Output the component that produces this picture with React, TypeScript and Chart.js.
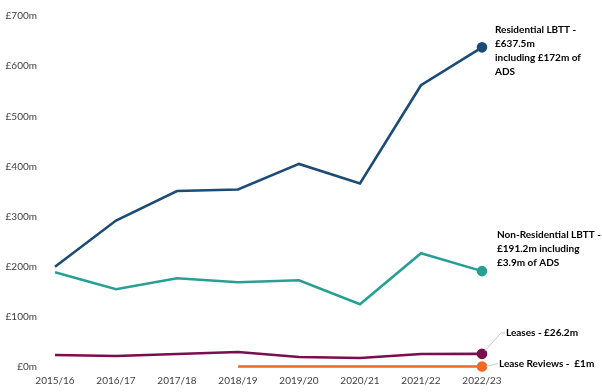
import React, { useEffect, useRef } from "react";
import { Chart, registerables } from "chart.js";

Chart.register(...registerables);

const categories = ["2015/16", "2016/17", "2017/18", "2018/19", "2019/20", "2020/21", "2021/22", "2022/23"];
const residential = [200, 292, 351, 354, 405, 366, 562, 637.5];
const nonResidential = [189, 155, 177, 169, 173, 125, 227, 191.2];
const leases = [24, 22, 26, 30, 20, 18, 26, 26.2];
const leaseReviews = [null, null, null, 1, 1, 1, 1, 1];
const yTicks = [0, 100, 200, 300, 400, 500, 600, 700];

const seriesLabels = [
  ["Residential LBTT -", "£637.5m", "including £172m of", "ADS"],
  ["Non-Residential LBTT -", "£191.2m including", "£3.9m of ADS"],
  ["Leases - £26.2m"],
  ["Lease Reviews -  £1m"],
];

const colors = ["#1C4B76", "#27A094", "#7A0E4E", "#F26A22"];

const lastPointRadius = (n: number) => Array.from({ length: n }, (_, i) => (i === n - 1 ? 4 : 0));

const labelPlugin = {
  id: "endLabels",
  afterDatasetsDraw(chart: any) {
    const ctx = chart.ctx;
    ctx.save();
    ctx.font = "bold 10px Lato";
    ctx.fillStyle = "#000000";
    ctx.textBaseline = "middle";
    ctx.textAlign = "left";
    const lh = 14;
    chart.data.datasets.forEach((ds: any, i: number) => {
      const meta = chart.getDatasetMeta(i);
      const pt = meta.data[meta.data.length - 1];
      const px = pt.x;
      const py = pt.y;
      const lines = seriesLabels[i];
      if (i === 0) {
        lines.forEach((l, k) => ctx.fillText(l, px + 13, py - 18 + k * lh));
      } else if (i === 1) {
        lines.forEach((l, k) => ctx.fillText(l, px + 15, py - 36 + k * lh));
      } else if (i === 2) {
        ctx.strokeStyle = "#C8C8C8";
        ctx.lineWidth = 1;
        ctx.beginPath();
        ctx.moveTo(px + 3, py - 3);
        ctx.lineTo(px + 19, py - 21);
        ctx.lineTo(px + 23, py - 21);
        ctx.stroke();
        ctx.fillText(lines[0], px + 24, py - 21);
      } else {
        ctx.strokeStyle = "#C8C8C8";
        ctx.lineWidth = 1;
        ctx.beginPath();
        ctx.moveTo(px + 4, py);
        ctx.lineTo(px + 16, py - 3);
        ctx.stroke();
        ctx.fillText(lines[0], px + 17, py - 3);
      }
    });
    ctx.restore();
  },
};

export default function App() {
  const ref = useRef<HTMLCanvasElement>(null);
  useEffect(() => {
    if (!ref.current) return;
    const mk = (label: string, data: any[], c: string) => ({
      label,
      data,
      borderColor: c,
      backgroundColor: c,
      borderWidth: 2.6,
      pointRadius: lastPointRadius(data.length),
      pointHoverRadius: 0,
      tension: 0,
      spanGaps: false,
      clip: 8,
    });
    const chart = new Chart(ref.current, {
      type: "line",
      data: {
        labels: categories,
        datasets: [
          mk("Residential LBTT", residential, colors[0]),
          mk("Non-Residential LBTT", nonResidential, colors[1]),
          mk("Leases", leases, colors[2]),
          mk("Lease Reviews", leaseReviews, colors[3]),
        ],
      },
      options: {
        animation: false,
        responsive: false,
        maintainAspectRatio: false,
        layout: { padding: { top: 12, right: 120, bottom: 0, left: 0 } },
        plugins: { legend: { display: false }, tooltip: { enabled: false } },
        scales: {
          x: {
            offset: false,
            grid: { display: false },
            border: { display: false },
            ticks: { color: "#404040", font: { family: "Lato", size: 10 }, maxRotation: 0, padding: 0 },
            afterFit: (axis: any) => {
              axis.height = 25;
            },
          },
          y: {
            min: 0,
            max: 700,
            afterBuildTicks: (axis: any) => {
              axis.ticks = yTicks.map((v) => ({ value: v }));
            },
            grid: { display: false },
            border: { display: false },
            ticks: {
              color: "#404040",
              font: { family: "Lato", size: 10 },
              padding: 10,
              callback: (v: any) => "£" + v + "m",
            },
            afterFit: (axis: any) => {
              axis.width = 55;
            },
          },
        },
      },
      plugins: [labelPlugin],
    });
    return () => chart.destroy();
  }, []);
  return (
    <div style={{ position: "fixed", left: 0, top: 0, width: 602, height: 392, background: "#fff" }}>
      <canvas ref={ref} width={602} height={392} />
    </div>
  );
}
